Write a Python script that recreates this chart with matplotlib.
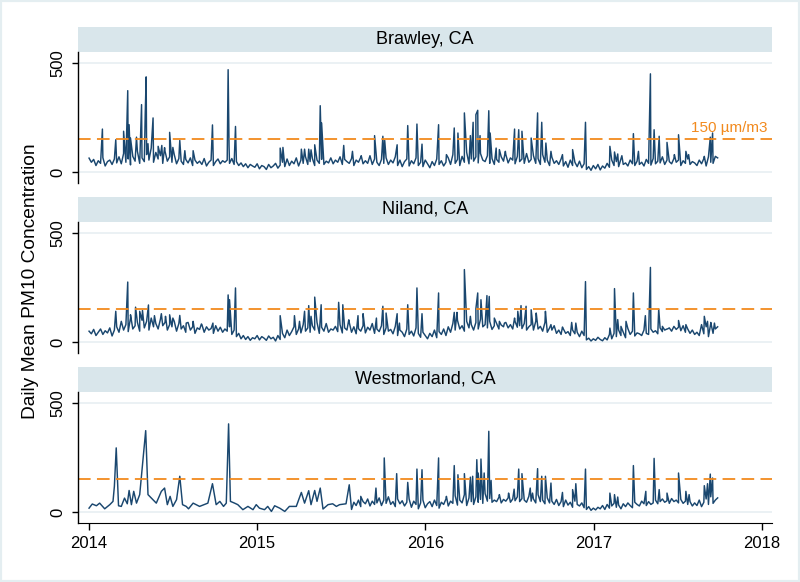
import matplotlib
matplotlib.use("Agg")
import matplotlib.pyplot as plt
import matplotlib.dates as mdates
from matplotlib.patches import Rectangle
import pandas as pd

plt.rcParams['font.family'] = ['Liberation Sans', 'DejaVu Sans']

START = pd.Timestamp("2014-01-01")
sites = ["Brawley, CA", "Niland, CA", "Westmorland, CA"]
standard = 150
standard_label = "150 \u00b5m/m3"
year_ticks = [2014, 2015, 2016, 2017, 2018]

# baseline readings every 5 days from 2014-01-01
brawley_base = [
    64, 45, 58, 30, 52, 40, 66, 28, 48, 55, 35, 60,
    42, 70, 38, 85, 45, 60, 33, 72, 50, 95, 40, 65,
    48, 80, 55, 110, 45, 90, 60, 75, 40, 95, 50, 70,
    45, 80, 38, 62, 50, 35, 58, 42, 65, 30, 55, 40,
    50, 35, 62, 28, 45, 55, 30, 48, 60, 38, 52, 45,
    55, 40, 62, 35, 48, 30, 42, 25, 38, 20, 35, 28,
    22, 38, 15, 30, 25, 12, 35, 20, 28, 40, 18, 32,
    45, 25, 60, 30, 50, 38, 65, 28, 55, 40, 70, 35,
    48, 62, 30, 55, 40, 58, 35, 50, 42, 65, 38, 55,
    45, 70, 35, 58, 48, 40, 62, 30, 55, 45, 68, 38,
    52, 40, 75, 35, 60, 45, 30, 58, 40, 65, 35, 55,
    42, 70, 30, 55, 25, 48, 60, 28, 52, 38, 65, 30,
    45, 25, 55, 38, 20, 48, 30, 60, 35, 52, 28, 45,
    65, 35, 80, 40, 58, 30, 72, 45, 90, 38, 60, 50,
    70, 42, 85, 55, 48, 75, 40, 62, 35, 58, 45, 70,
    50, 80, 42, 65, 55, 38, 72, 48, 60, 40, 85, 45,
    58, 75, 40, 62, 35, 80, 45, 55, 30, 68, 40, 52,
    35, 60, 28, 48, 22, 55, 30, 45, 25, 50, 20, 38,
    12, 25, 8, 30, 15, 35, 10, 28, 18, 40, 22, 55,
    30, 48, 25, 60, 35, 42, 28, 55, 38, 30, 50, 35,
    45, 28, 58, 40, 32, 62, 38, 50, 42, 70, 35, 55,
    48, 38, 62, 45, 55, 30, 52, 40, 60, 35, 48, 42,
    30, 55, 38, 62, 28, 70, 45, 40, 72, 65,
]
niland_base = [
    50, 38, 58, 30, 45, 60, 35, 52, 42, 65, 28, 55,
    70, 45, 95, 55, 80, 48, 110, 60, 75, 90, 50, 100,
    65, 95, 55, 110, 70, 85, 60, 105, 75, 90, 55, 80,
    70, 95, 50, 85, 60, 75, 45, 90, 55, 70, 40, 65,
    58, 80, 45, 70, 55, 62, 40, 75, 50, 68, 45, 60,
    50, 70, 35, 55, 25, 40, 15, 30, 12, 25, 8, 20,
    15, 30, 10, 25, 18, 8, 28, 15, 22, 5, 30, 12,
    40, 20, 55, 30, 48, 70, 35, 60, 42, 80, 50, 65,
    45, 75, 55, 90, 40, 68, 50, 85, 45, 60, 55, 72,
    48, 80, 42, 65, 55, 90, 45, 70, 38, 62, 50, 75,
    42, 68, 55, 85, 40, 60, 48, 75, 35, 65, 50, 58,
    38, 72, 30, 55, 45, 25, 60, 35, 50, 28, 65, 40,
    22, 45, 30, 15, 40, 25, 55, 20, 48, 35, 60, 30,
    70, 45, 85, 55, 100, 60, 75, 50, 95, 65, 80, 55,
    90, 60, 105, 70, 80, 65, 95, 58, 75, 85, 60, 78,
    70, 90, 65, 80, 60, 95, 68, 75, 62, 85, 55, 70,
    80, 55, 95, 60, 72, 50, 90, 45, 65, 55, 75, 40,
    55, 35, 60, 40, 48, 30, 55, 38, 45, 25, 50, 30,
    10, 18, 5, 15, 8, 22, 12, 6, 20, 10, 35, 15,
    40, 25, 55, 30, 45, 20, 62, 35, 50, 28, 42, 38,
    30, 55, 40, 35, 60, 45, 52, 38, 65, 48, 55, 60,
    65, 50, 72, 58, 68, 52, 75, 45, 60, 40, 55, 35,
    45, 30, 80, 38, 70, 25, 85, 40, 60, 70,
]
# Westmorland: sparse samples (day, value) until July 2015
west_early_days = [
    0, 7, 16, 23, 34, 45, 52, 55, 59, 64, 70, 77, 83, 87, 92, 97, 103, 110,
    123, 128, 146, 157, 164, 170, 176, 182, 190, 197, 203, 211, 216, 226,
    240, 258, 268, 276, 284, 292, 298, 303, 307, 316, 323, 334, 345, 356,
    363, 370, 381, 388, 396, 403, 414, 425, 435, 450, 461, 468, 477, 482,
    490, 495, 502, 508, 519, 529, 537, 544, 558,
]
west_early_vals = [
    18, 37, 29, 41, 15, 34, 49, 118, 294, 29, 26, 64, 38, 99, 34, 95, 41, 80,
    373, 80, 41, 95, 110, 34, 72, 26, 57, 164, 34, 26, 15, 41,
    26, 41, 130, 34, 49, 26, 41, 404, 49, 41, 34, 11, 26, 11,
    34, 18, 11, 26, 3, 29, 18, 3, 26, 26, 90, 41, 98, 34,
    99, 49, 110, 14, 34, 38, 26, 34, 38,
]
# then daily monitoring, baseline every 5 days from day 565
west_base = [
    125, 12, 45, 30, 55, 25, 48, 38, 60, 28, 50, 35,
    42, 65, 30, 55, 40, 70, 35, 48, 25, 60, 38, 52,
    28, 45, 60, 22, 50, 35, 15, 42, 55, 20, 38, 48,
    25, 55, 30, 18, 45, 35, 60, 28, 50, 40, 75, 32,
    55, 42, 80, 30, 65, 48, 35, 70, 45, 58, 40, 85,
    50, 62, 45, 55, 48, 68, 42, 58, 50, 65, 45, 60,
    52, 70, 48, 62, 55, 45, 72, 50, 60, 42, 80, 48,
    55, 38, 65, 42, 50, 35, 58, 30, 48, 25, 55, 32,
    45, 22, 50, 35, 28, 42, 20, 12, 25, 8, 18, 10,
    22, 15, 30, 12, 35, 18, 28, 40, 22, 32, 15, 38,
    25, 42, 30, 20, 45, 35, 28, 50, 38, 30, 48, 35,
    42, 55, 38, 48, 60, 45, 52, 40, 62, 48, 55, 42,
    58, 40, 50, 35, 48, 28, 42, 30, 55, 25, 45, 60,
    35, 70, 40, 55, 65,
]

# dust event peaks (day since 2014-01-01, value)
brawley_peaks = [
    (29, 197), (58, 148), (75, 187), (84, 373), (87, 217), (90, 156), (103, 160),
    (114, 309), (122, 268), (124, 436), (128, 130), (139, 248), (150, 118),
    (158, 122), (164, 112), (175, 182), (182, 113), (197, 145), (208, 98),
    (226, 98), (268, 216), (302, 469), (304, 121), (318, 209), (415, 110),
    (421, 113), (461, 105), (468, 105), (477, 105), (482, 102), (490, 125),
    (502, 304), (505, 225), (553, 122), (572, 95), (591, 75), (620, 167),
    (638, 164), (642, 145), (669, 125), (692, 213), (712, 220), (723, 128),
    (759, 217), (776, 80), (793, 202), (801, 179), (815, 271), (828, 167),
    (834, 228), (840, 263), (844, 283), (849, 167), (868, 281), (871, 179),
    (884, 110), (891, 103), (904, 95), (924, 197), (933, 194), (940, 187),
    (960, 156), (974, 271), (983, 228), (992, 133), (1003, 95), (1028, 80),
    (1050, 103), (1078, 228), (1131, 118), (1141, 92), (1148, 83), (1157, 75),
    (1182, 176), (1193, 95), (1219, 450), (1227, 194), (1238, 164), (1255, 136),
    (1271, 80), (1280, 171), (1296, 95), (1302, 80), (1336, 72), (1349, 160),
    (1354, 179),
]
niland_peaks = [
    (58, 141), (84, 275), (90, 125), (101, 160), (110, 141), (116, 145),
    (129, 170), (142, 121), (157, 130), (166, 118), (175, 125), (182, 110),
    (197, 122), (211, 87), (226, 95), (244, 83), (269, 87), (302, 216),
    (305, 194), (318, 248), (415, 121), (446, 121), (457, 95), (468, 141),
    (477, 167), (482, 118), (490, 206), (504, 171), (542, 182), (551, 171),
    (564, 102), (584, 121), (595, 130), (624, 110), (638, 164), (645, 133),
    (669, 130), (674, 87), (692, 171), (712, 248), (723, 130), (759, 225),
    (793, 136), (799, 136), (815, 332), (828, 118), (840, 153), (844, 225),
    (851, 194), (864, 213), (869, 209), (880, 110), (891, 95), (902, 87),
    (924, 110), (931, 141), (938, 167), (949, 164), (960, 148), (971, 133),
    (991, 141), (1003, 80), (1028, 69), (1048, 90), (1057, 87), (1078, 277),
    (1131, 64), (1141, 245), (1148, 103), (1155, 72), (1166, 95), (1182, 225),
    (1208, 121), (1219, 342), (1237, 151), (1245, 72), (1256, 60), (1280, 99),
    (1296, 80), (1336, 118), (1343, 95), (1350, 90), (1358, 87),
]
west_peaks = [
    (590, 72), (623, 110), (641, 248), (668, 176), (692, 136), (712, 197),
    (723, 194), (759, 248), (776, 72), (793, 213), (801, 171), (815, 176),
    (828, 160), (833, 164), (842, 240), (845, 179), (851, 243), (858, 179),
    (868, 370), (873, 145), (891, 80), (911, 87), (923, 105), (933, 197),
    (940, 176), (958, 110), (963, 87), (974, 199), (983, 164), (991, 164),
    (1003, 133), (1028, 90), (1050, 103), (1057, 130), (1078, 197), (1131, 87),
    (1141, 80), (1148, 69), (1182, 213), (1209, 95), (1227, 246), (1238, 103),
    (1255, 87), (1280, 179), (1296, 95), (1303, 80), (1336, 121), (1343, 130),
    (1349, 174), (1354, 156),
]


def build(points):
    df = pd.DataFrame(points, columns=["day", "pm10"]).sort_values("day", kind="stable")
    df["date"] = START + pd.to_timedelta(df["day"], unit="D")
    return df


brawley = build([(5 * i, v) for i, v in enumerate(brawley_base)] + brawley_peaks)
niland = build([(5 * i, v) for i, v in enumerate(niland_base)] + niland_peaks)
west = build(list(zip(west_early_days, west_early_vals))
             + [(565 + 5 * i, v) for i, v in enumerate(west_base)] + west_peaks)
series = [brawley, niland, west]

navy = "#1A476F"
orange = "#F28A1E"
strip_col = "#D9E6EB"
grid_col = "#E6EEF1"

fig = plt.figure(figsize=(8.0, 5.82), dpi=100)
fig.patch.set_facecolor("white")
fig.patches.append(Rectangle((0, 0), 1, 1, transform=fig.transFigure, fill=False,
                             edgecolor="#E4EEF1", linewidth=3))

left, width, height = 78 / 800, 694 / 800, 131 / 582
bottoms = [1 - 183 / 582, 1 - 353 / 582, 1 - 523 / 582]
xmin = pd.Timestamp("2013-12-08")
xmax = pd.Timestamp("2018-01-23")

for k, (name, df) in enumerate(zip(sites, series)):
    ax = fig.add_axes([left, bottoms[k], width, height])
    for y in [0, 500]:
        ax.axhline(y, color=grid_col, linewidth=1.1, zorder=0)
    ax.plot(df["date"], df["pm10"], color=navy, linewidth=1.05)
    ax.axhline(standard, color=orange, linewidth=1.3, dashes=(7, 3.5))
    ax.set_xlim(xmin, xmax)
    ax.set_ylim(-50, 550)
    ax.set_yticks([0, 500])
    ax.set_yticklabels(["0", "500"], rotation=90, va="center", fontsize=12)
    ax.tick_params(axis="y", length=4, width=1, pad=5)
    for s in ["top", "right"]:
        ax.spines[s].set_visible(False)
    ax.spines["left"].set_linewidth(1)
    if k < 2:
        ax.spines["bottom"].set_visible(False)
        ax.set_xticks([])
    else:
        ax.set_xticks([pd.Timestamp(f"{y}-01-01") for y in year_ticks])
        ax.xaxis.set_major_formatter(mdates.DateFormatter("%Y"))
        ax.tick_params(axis="x", length=5, width=1, labelsize=12, pad=4)
    # strip header
    ax.add_patch(Rectangle((0, 1.0), 1, 25 / 131, transform=ax.transAxes,
                           facecolor=strip_col, edgecolor="none", clip_on=False))
    ax.text(0.5, 1.0 + 12.5 / 131, name, transform=ax.transAxes, ha="center",
            va="center", fontsize=13)
    if k == 0:
        ax.text(0.9935, 168, standard_label, transform=ax.get_yaxis_transform(),
                ha="right", va="bottom", color=orange, fontsize=11)

fig.text(31 / 800, 1 - 281 / 582, "Daily Mean PM10 Concentration", rotation=90,
         ha="center", va="center", fontsize=13.8)

fig.savefig("out.png", dpi=100)
